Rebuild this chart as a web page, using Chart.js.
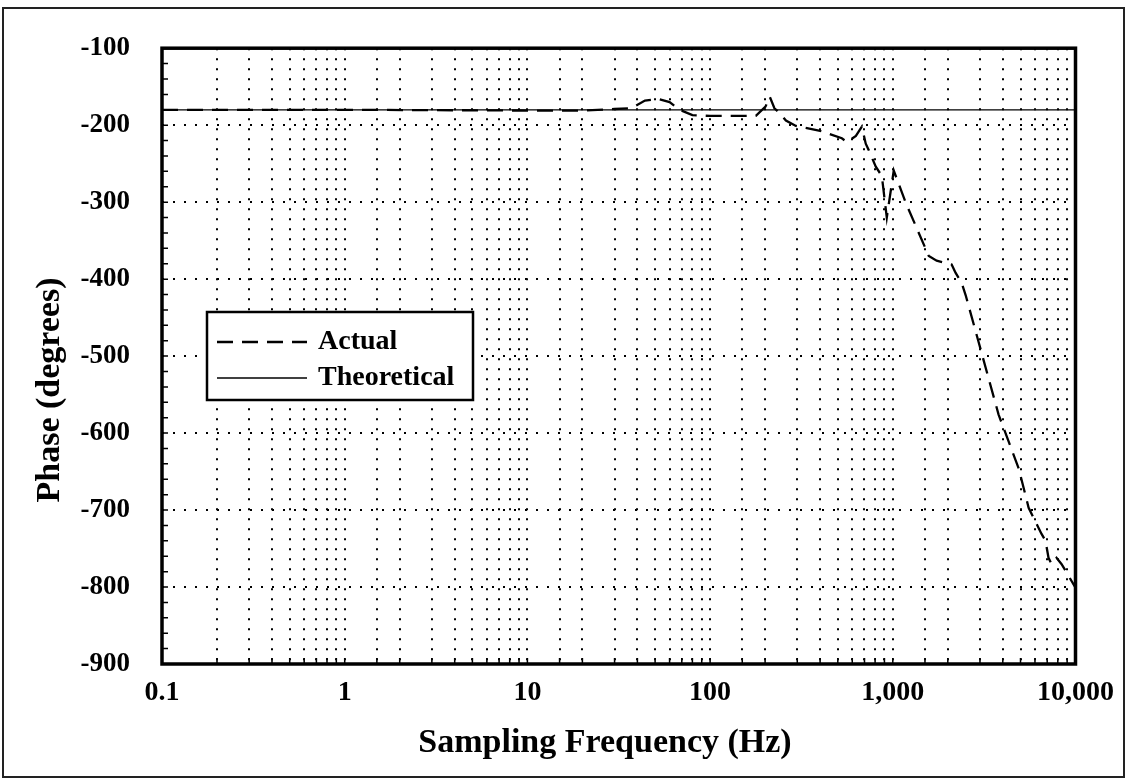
<!DOCTYPE html>
<html>
<head>
<meta charset="utf-8">
<script src="https://cdn.jsdelivr.net/npm/chart.js@4/dist/chart.umd.min.js"></script>
<style>
  body { margin: 0; background: #fff; }
  #wrap { width: 1126px; height: 779px; }
</style>
</head>
<body>
<div id="wrap"><canvas id="phaseChart" width="1126" height="779"></canvas></div>
<script>
const actualFreq = [0.1, 1, 10, 20, 30, 37, 44, 52, 60, 68, 80, 100, 157, 178, 201, 212, 225, 240, 260, 295, 360, 409, 526, 561, 628, 677, 711, 740, 807, 871, 927, 1012, 1178, 1574, 1738, 2099, 2208, 2382, 2506, 2951, 3793, 4887, 5539, 6518, 6855, 7117, 7390, 7870, 8375, 8930, 10000];
const actualPhase = [-180, -180, -181, -181, -179, -178, -168, -166, -170, -180, -187, -188, -188, -188, -176, -163, -178, -184, -194, -201, -205, -208, -217, -222, -214, -202, -224, -233, -254, -266, -320, -259, -301, -370, -376, -381, -392, -405, -421, -482, -576, -646, -697, -731, -740, -762, -770, -762, -770, -781, -801];

const theoryFreq = [0.1, 10000];
const theoryPhase = [-180, -180];

const xLabelValues = [0.1, 1, 10, 100, 1000, 10000];
const xLabelText = ["0.1", "1", "10", "100", "1,000", "10,000"];
const yMin = -900, yMax = -100, yStep = 100, yMinorStep = 20;

const FONT = "'Liberation Serif', 'Times New Roman', serif";

const toPoints = (xs, ys) => xs.map((x, i) => ({ x: x, y: ys[i] }));

// frame, inward ticks, legend box and axis titles
const decorations = {
  id: "decorations",
  beforeDraw(chart) {
    const ctx = chart.ctx;
    ctx.save();
    ctx.fillStyle = "#fff";
    ctx.fillRect(0, 0, chart.width, chart.height);
    ctx.strokeStyle = "#222";
    ctx.lineWidth = 2;
    ctx.strokeRect(3, 8, 1121, 769);
    ctx.restore();
  },
  afterDraw(chart) {
    const ctx = chart.ctx;
    const a = chart.chartArea;
    const xs = chart.scales.x, ys = chart.scales.y;
    ctx.save();
    ctx.strokeStyle = "#000";
    ctx.lineWidth = 1.5;
    ctx.setLineDash([]);
    ctx.beginPath();
    for (let v = yMin; v <= yMax; v += yMinorStep) {
      const py = ys.getPixelForValue(v);
      ctx.moveTo(a.left, py);
      ctx.lineTo(a.left + 6, py);
    }
    xs.ticks.forEach(t => {
      const px = xs.getPixelForValue(t.value);
      ctx.moveTo(px, a.bottom);
      ctx.lineTo(px, a.bottom - 6);
    });
    ctx.stroke();

    ctx.lineWidth = 3.5;
    ctx.strokeRect(a.left, a.top, a.right - a.left, a.bottom - a.top);

    // legend
    const lx = 207, ly = 312, lw = 266, lh = 88;
    ctx.fillStyle = "#fff";
    ctx.fillRect(lx, ly, lw, lh);
    ctx.lineWidth = 2.5;
    ctx.strokeRect(lx, ly, lw, lh);
    const items = chart.data.datasets;
    items.forEach((ds, i) => {
      const y = ly + 30 + i * 36;
      ctx.lineWidth = ds.borderWidth;
      ctx.setLineDash(ds.borderDash || []);
      ctx.beginPath();
      ctx.moveTo(lx + 10, y);
      ctx.lineTo(lx + 100, y);
      ctx.stroke();
      ctx.setLineDash([]);
      ctx.fillStyle = "#000";
      ctx.font = "bold 28px " + FONT;
      ctx.textBaseline = "middle";
      ctx.textAlign = "left";
      ctx.fillText(ds.label, lx + 111, y);
    });

    // axis titles
    ctx.font = "bold 34px " + FONT;
    ctx.textAlign = "center";
    ctx.textBaseline = "middle";
    ctx.fillText("Sampling Frequency (Hz)", 605, 743);
    ctx.translate(50, 390);
    ctx.rotate(-Math.PI / 2);
    ctx.fillText("Phase (degrees)", 0, 0);
    ctx.restore();
  }
};

new Chart(document.getElementById("phaseChart"), {
  type: "line",
  data: {
    datasets: [
      {
        label: "Actual",
        data: toPoints(actualFreq, actualPhase),
        borderColor: "#000",
        borderWidth: 2.3,
        borderDash: [16, 9],
        pointRadius: 0,
        fill: false,
        tension: 0,
      },
      {
        label: "Theoretical",
        data: toPoints(theoryFreq, theoryPhase),
        borderColor: "#000",
        borderWidth: 1.3,
        pointRadius: 0,
        fill: false,
      },
    ],
  },
  options: {
    responsive: false,
    animation: false,
    devicePixelRatio: 1,
    layout: { padding: { left: 0, top: 44, right: 49, bottom: 0 } },
    plugins: { legend: { display: false }, tooltip: { enabled: false } },
    scales: {
      x: {
        type: "logarithmic",
        position: "bottom",
        min: 0.1,
        max: 10000,
        afterFit: s => { s.height = 115; },
        grid: { color: "#000", lineWidth: 2, drawTicks: false },
        border: { display: false, dash: [2, 8] },
        ticks: {
          autoSkip: false,
          maxRotation: 0,
          minRotation: 0,
          padding: 12,
          color: "#000",
          font: { family: FONT, size: 28, weight: "bold" },
          callback: v => {
            const i = xLabelValues.findIndex(t => Math.abs(t - v) < t * 1e-6);
            return i >= 0 ? xLabelText[i] : "";
          },
        },
      },
      y: {
        min: yMin,
        max: yMax,
        afterFit: s => { s.width = 162; },
        grid: { color: "#000", lineWidth: 2, drawTicks: false },
        border: { display: false, dash: [2, 9] },
        ticks: {
          stepSize: yStep,
          padding: 32,
          color: "#000",
          font: { family: FONT, size: 27, weight: "bold" },
          callback: v => String(v),
        },
      },
    },
  },
  plugins: [decorations],
});
</script>
</body>
</html>
